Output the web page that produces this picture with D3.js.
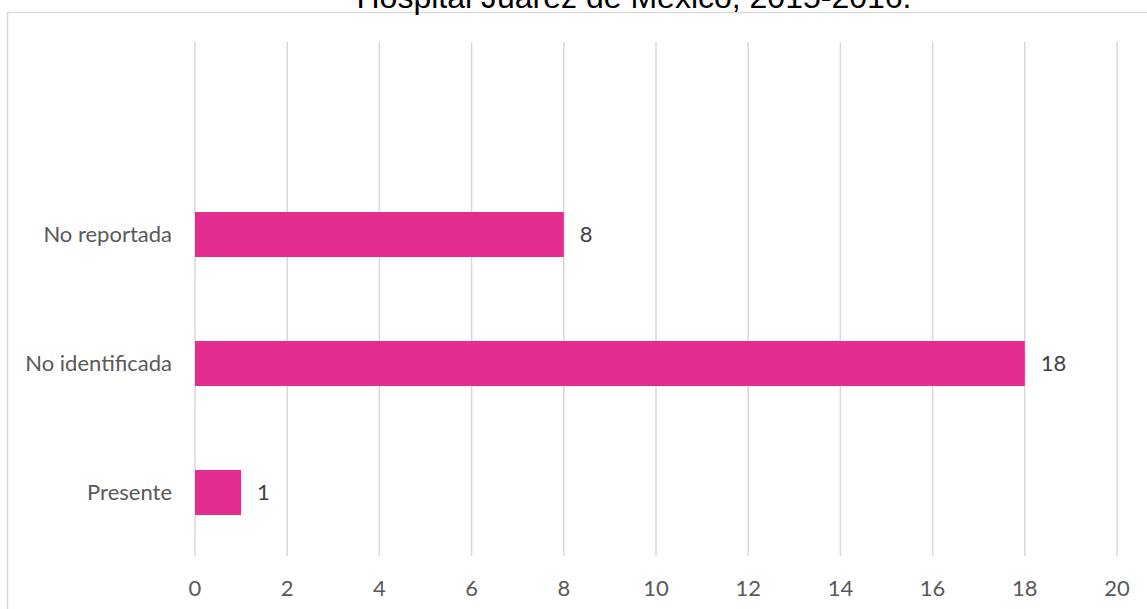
<!DOCTYPE html>
<html>
<head>
<meta charset="utf-8">
<script src="https://cdn.jsdelivr.net/npm/d3@7"></script>
<style>
  html, body { margin: 0; padding: 0; background: #fff; }
  svg { display: block; }
</style>
</head>
<body>
<svg id="chart" width="1147" height="609"></svg>
<script>
// Categories listed top to bottom, with their counts
const categories = ["No reportada", "No identificada", "Presente"];
const counts = [8, 18, 1];
const xTicks = [0, 2, 4, 6, 8, 10, 12, 14, 16, 18, 20];
const title = "Hospital Juárez de México, 2015-2016.";

const W = 1147, H = 609;
const plot = { left: 195, right: 1117, top: 42, bottom: 556 };
const barColor = "#E32D91";
const labelFont = "Lato, 'Open Sans', sans-serif";
const labelSize = 22;

const svg = d3.select("#chart");

// Chart area frame
svg.append("rect")
  .attr("x", 7.5).attr("y", 12.5)
  .attr("width", 1160).attr("height", 640)
  .attr("fill", "#fff")
  .attr("stroke", "#d9d9d9")
  .attr("stroke-width", 1.5);

// Title (runs off the top edge of the frame)
svg.append("text")
  .attr("x", 634).attr("y", 8)
  .attr("text-anchor", "middle")
  .attr("font-family", "'Liberation Sans', Arial, sans-serif")
  .attr("font-size", 32)
  .attr("fill", "#000")
  .text(title);

const x = d3.scaleLinear().domain([0, 20]).range([plot.left, plot.right]);
const y = d3.scaleBand()
  .domain(categories)
  .range([170, 557])
  .paddingInner(0.651)
  .paddingOuter(0.3255);

// Vertical gridlines
svg.append("g")
  .selectAll("line")
  .data(xTicks)
  .join("line")
  .attr("x1", d => x(d)).attr("x2", d => x(d))
  .attr("y1", plot.top).attr("y2", plot.bottom)
  .attr("stroke", "#d9d9d9")
  .attr("stroke-width", 1.5);

// Bars
svg.append("g")
  .selectAll("rect")
  .data(categories.map((c, i) => ({ c, v: counts[i] })))
  .join("rect")
  .attr("x", x(0))
  .attr("y", d => y(d.c))
  .attr("width", d => x(d.v) - x(0))
  .attr("height", y.bandwidth())
  .attr("fill", barColor);

// Value labels
svg.append("g")
  .selectAll("text")
  .data(categories.map((c, i) => ({ c, v: counts[i] })))
  .join("text")
  .attr("x", d => x(d.v) + 16)
  .attr("y", d => y(d.c) + y.bandwidth() / 2)
  .attr("dy", "0.35em")
  .attr("font-family", labelFont)
  .attr("font-size", labelSize)
  .attr("fill", "#404040")
  .text(d => d.v);

// Category axis labels
svg.append("g")
  .selectAll("text")
  .data(categories)
  .join("text")
  .attr("x", plot.left - 23)
  .attr("y", d => y(d) + y.bandwidth() / 2)
  .attr("dy", "0.35em")
  .attr("text-anchor", "end")
  .attr("font-family", labelFont)
  .attr("font-size", labelSize)
  .attr("fill", "#595959")
  .text(d => d);

// Value axis tick labels
svg.append("g")
  .selectAll("text")
  .data(xTicks)
  .join("text")
  .attr("x", d => x(d))
  .attr("y", 588)
  .attr("dy", "0.35em")
  .attr("text-anchor", "middle")
  .attr("font-family", labelFont)
  .attr("font-size", labelSize)
  .attr("fill", "#595959")
  .text(d => d);
</script>
</body>
</html>
